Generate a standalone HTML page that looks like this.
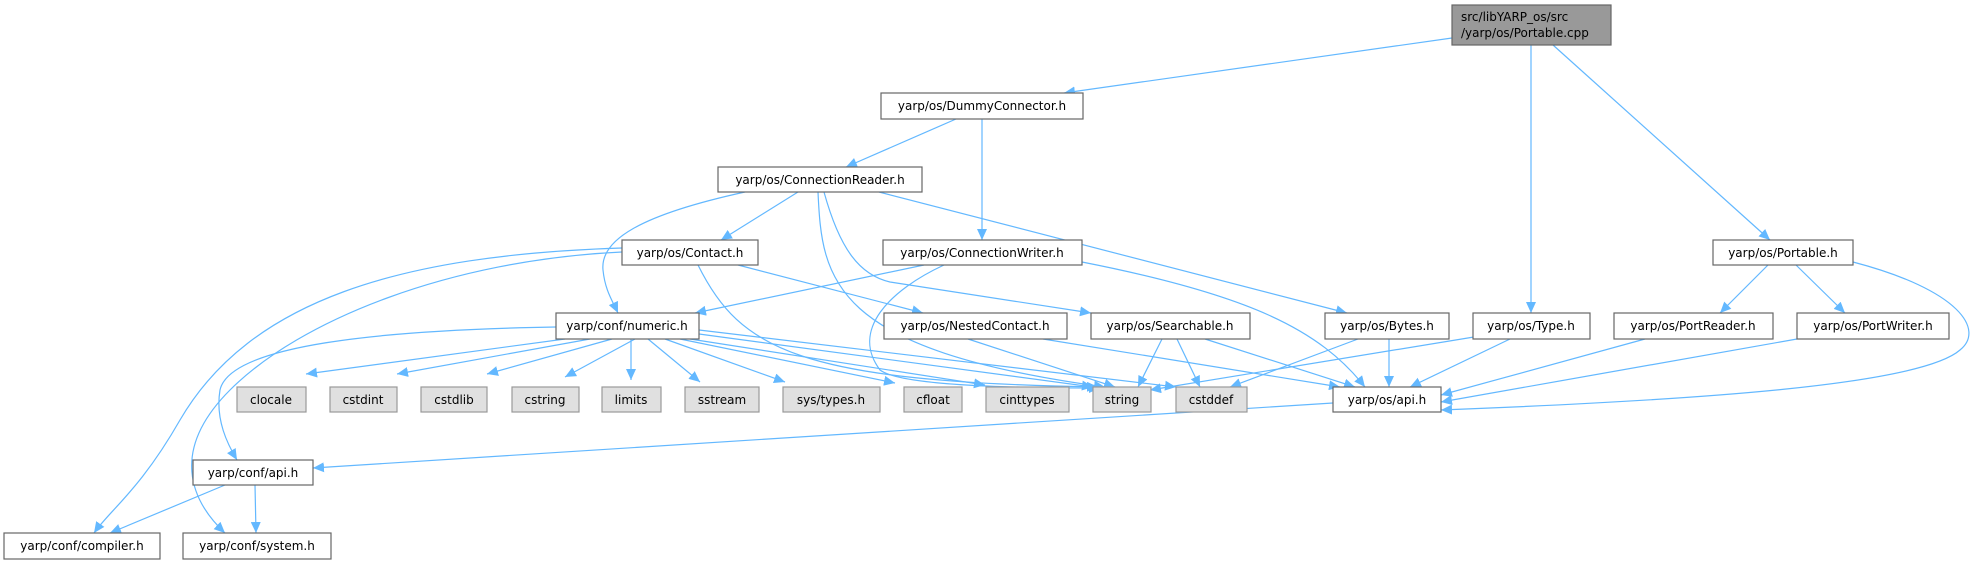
<!DOCTYPE html>
<html><head><meta charset="utf-8"><style>
html,body{margin:0;padding:0;background:#fff;}
svg{display:block;}
text{font-family:"DejaVu Sans","Liberation Sans",sans-serif;font-size:12px;fill:#000;}
.n{fill:#fff;stroke:#666;stroke-width:1.2;}
.g{fill:#e0e0e0;stroke:#999;stroke-width:1.2;}
.e{fill:none;stroke:#63b8ff;stroke-width:1.2;}
</style></head><body>
<svg width="1974" height="564" viewBox="0 0 1974 564" xmlns="http://www.w3.org/2000/svg">
<defs><marker id="a" markerUnits="userSpaceOnUse" markerWidth="12" markerHeight="10" refX="11" refY="5" orient="auto"><path d="M0,0 L11,5 L0,10 z" fill="#63b8ff"/></marker></defs>
<g marker-end="url(#a)">
<path class="e" d="M1452,38 L1064,93"/>
<path class="e" d="M1531,45 L1531,313"/>
<path class="e" d="M1553,45 L1770,240"/>
<path class="e" d="M956,119 L846,167"/>
<path class="e" d="M982,119 L982,240"/>
<path class="e" d="M798,192 L721,240"/>
<path class="e" d="M745,192 C640,215 600,240 603,270 C605,290 612,300 618,313"/>
<path class="e" d="M818,192 C822,280 830,350 1105,387"/>
<path class="e" d="M824,192 C840,250 860,275 890,282 L1091,313"/>
<path class="e" d="M879,192 L1347,313"/>
<path class="e" d="M622,248 C400,255 250,300 180,420 C140,490 110,510 94,533"/>
<path class="e" d="M622,252 C450,260 300,320 230,390 C170,450 190,500 225,533"/>
<path class="e" d="M738,265 L923,313"/>
<path class="e" d="M698,265 C740,350 800,382 1098,387"/>
<path class="e" d="M924,265 L695,313"/>
<path class="e" d="M944,265 C890,290 850,330 880,370 C900,385 1000,388 1100,388"/>
<path class="e" d="M1082,262 C1250,295 1320,330 1365,387"/>
<path class="e" d="M556,327 C380,330 230,345 220,390 C215,420 228,445 237,460"/>
<path class="e" d="M565,339 L306,374"/>
<path class="e" d="M590,339 L397,374"/>
<path class="e" d="M612,339 L487,374"/>
<path class="e" d="M635,339 L565,377"/>
<path class="e" d="M631,339 L631,380"/>
<path class="e" d="M648,339 L700,382"/>
<path class="e" d="M665,339 L785,382"/>
<path class="e" d="M680,339 L895,383"/>
<path class="e" d="M690,339 L985,385"/>
<path class="e" d="M699,334 L1093,387"/>
<path class="e" d="M699,330 L1176,387"/>
<path class="e" d="M968,339 L1115,387"/>
<path class="e" d="M1043,339 L1340,387"/>
<path class="e" d="M1162,339 L1138,387"/>
<path class="e" d="M1177,339 L1200,387"/>
<path class="e" d="M1205,339 L1355,387"/>
<path class="e" d="M1358,339 L1230,387"/>
<path class="e" d="M1389,339 L1389,387"/>
<path class="e" d="M1480,336 L1150,390"/>
<path class="e" d="M1510,339 L1410,387"/>
<path class="e" d="M1768,265 L1720,313"/>
<path class="e" d="M1796,265 L1845,313"/>
<path class="e" d="M1853,262 C1960,290 1985,330 1960,350 C1920,385 1700,400 1441,410"/>
<path class="e" d="M1645,339 L1441,395"/>
<path class="e" d="M1797,339 L1441,402"/>
<path class="e" d="M1333,403 L313,468"/>
<path class="e" d="M225,485 L110,533"/>
<path class="e" d="M255,485 L256,533"/>
</g>
<rect x="1452" y="5" width="159" height="40" fill="#999" stroke="#666" stroke-width="1.2"/>
<text x="1461" y="21">src/libYARP_os/src</text><text x="1461" y="37">/yarp/os/Portable.cpp</text>
<rect class="n" x="881" y="93" width="202" height="26"/><text x="982" y="110" text-anchor="middle">yarp/os/DummyConnector.h</text>
<rect class="n" x="718" y="167" width="204" height="25"/><text x="820" y="184" text-anchor="middle">yarp/os/ConnectionReader.h</text>
<rect class="n" x="622" y="240" width="136" height="25"/><text x="690" y="257" text-anchor="middle">yarp/os/Contact.h</text>
<rect class="n" x="883" y="240" width="199" height="25"/><text x="982" y="257" text-anchor="middle">yarp/os/ConnectionWriter.h</text>
<rect class="n" x="1713" y="240" width="140" height="25"/><text x="1783" y="257" text-anchor="middle">yarp/os/Portable.h</text>
<rect class="n" x="556" y="313" width="143" height="26"/><text x="627" y="330" text-anchor="middle">yarp/conf/numeric.h</text>
<rect class="n" x="884" y="313" width="183" height="26"/><text x="975" y="330" text-anchor="middle">yarp/os/NestedContact.h</text>
<rect class="n" x="1091" y="313" width="159" height="26"/><text x="1170" y="330" text-anchor="middle">yarp/os/Searchable.h</text>
<rect class="n" x="1325" y="313" width="124" height="26"/><text x="1387" y="330" text-anchor="middle">yarp/os/Bytes.h</text>
<rect class="n" x="1473" y="313" width="117" height="26"/><text x="1531" y="330" text-anchor="middle">yarp/os/Type.h</text>
<rect class="n" x="1614" y="313" width="159" height="26"/><text x="1693" y="330" text-anchor="middle">yarp/os/PortReader.h</text>
<rect class="n" x="1797" y="313" width="152" height="26"/><text x="1873" y="330" text-anchor="middle">yarp/os/PortWriter.h</text>
<rect class="g" x="237" y="387" width="69" height="25"/><text x="271" y="404" text-anchor="middle">clocale</text>
<rect class="g" x="330" y="387" width="67" height="25"/><text x="363" y="404" text-anchor="middle">cstdint</text>
<rect class="g" x="421" y="387" width="66" height="25"/><text x="454" y="404" text-anchor="middle">cstdlib</text>
<rect class="g" x="512" y="387" width="67" height="25"/><text x="545" y="404" text-anchor="middle">cstring</text>
<rect class="g" x="602" y="387" width="59" height="25"/><text x="631" y="404" text-anchor="middle">limits</text>
<rect class="g" x="685" y="387" width="74" height="25"/><text x="722" y="404" text-anchor="middle">sstream</text>
<rect class="g" x="783" y="387" width="97" height="25"/><text x="831" y="404" text-anchor="middle">sys/types.h</text>
<rect class="g" x="904" y="387" width="58" height="25"/><text x="933" y="404" text-anchor="middle">cfloat</text>
<rect class="g" x="986" y="387" width="83" height="25"/><text x="1027" y="404" text-anchor="middle">cinttypes</text>
<rect class="g" x="1093" y="387" width="58" height="25"/><text x="1122" y="404" text-anchor="middle">string</text>
<rect class="g" x="1176" y="387" width="71" height="25"/><text x="1211" y="404" text-anchor="middle">cstddef</text>
<rect class="n" x="1333" y="387" width="108" height="25"/><text x="1387" y="404" text-anchor="middle">yarp/os/api.h</text>
<rect class="n" x="193" y="460" width="120" height="25"/><text x="253" y="477" text-anchor="middle">yarp/conf/api.h</text>
<rect class="n" x="4" y="533" width="156" height="26"/><text x="82" y="550" text-anchor="middle">yarp/conf/compiler.h</text>
<rect class="n" x="183" y="533" width="148" height="26"/><text x="257" y="550" text-anchor="middle">yarp/conf/system.h</text>
</svg>
</body></html>
